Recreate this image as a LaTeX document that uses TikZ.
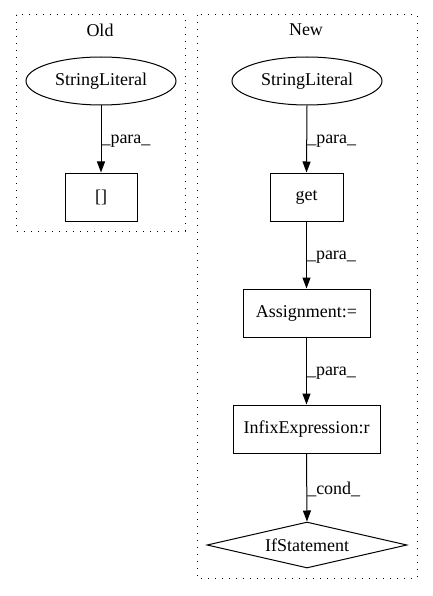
\documentclass[tikz,border=0pt]{standalone}
\usepackage{fontspec}
\setmainfont{Liberation Serif}
\usetikzlibrary{shapes.geometric,arrows.meta}
\begin{document}
\begin{tikzpicture}[x=1pt,y=-1pt,
  every node/.style={font=\fontsize{18}{20}\selectfont, inner sep=0pt},
  cluster/.style={draw, line width=1pt, dash pattern=on 1.3pt off 5.7pt},
  ell/.style={draw, ellipse, line width=1pt, minimum width=150pt, minimum height=48pt},
  box/.style={draw, rectangle, line width=1pt, minimum height=48pt},
  dia/.style={draw, diamond, aspect=4.35, line width=1pt, minimum width=200pt, minimum height=46pt},
  arr/.style={line width=1pt, -{Triangle[length=11pt,width=8pt]}},
  elab/.style={anchor=west, inner sep=0pt}
]
\useasboundingbox (0,0) rectangle (432,596);
% clusters
\draw[cluster] (16,15) rectangle (185,231);
\node (oldt) at (100,30) {Old};
\draw[cluster] (197,15) rectangle (417,578);
\node (newt) at (306,30) {New};
% Old
\node[ell] (sl1) at (101,81) {StringLiteral};
\node[box, minimum width=72pt] (br) at (101,197) {[]};
\draw[arr] (sl1) -- (br) node[elab, pos=0.5, yshift=-2pt] {\_para\_};
% New
\node[ell] (sl2) at (307,81) {StringLiteral};
\node[box, minimum width=73pt] (get) at (306.5,197) {get};
\node[box, minimum width=127pt] (asg) at (306.5,313) {Assignment:=};
\node[box, minimum width=147pt] (inf) at (306.5,429) {InfixExpression:r};
\node[dia] (ifs) at (307,545) {IfStatement};
\draw[arr] (sl2.south) -- (get.north) node[elab, pos=0.5, yshift=-2pt] {\_para\_};
\draw[arr] (get) -- (asg) node[elab, pos=0.5, yshift=-2pt] {\_para\_};
\draw[arr] (asg) -- (inf) node[elab, pos=0.5, yshift=-2pt] {\_para\_};
\draw[arr] (inf.south) -- (ifs.north) node[elab, pos=0.5, yshift=-2pt] {\_cond\_};
\end{tikzpicture}
\end{document}
